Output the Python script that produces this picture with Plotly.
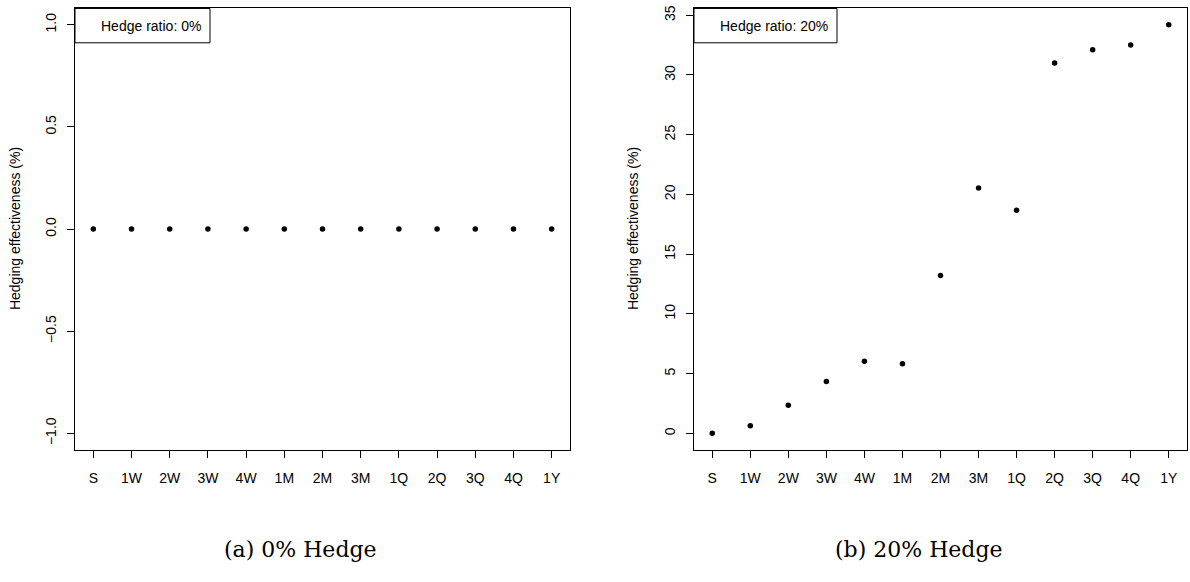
import plotly.graph_objects as go

# Hedge horizons on the x axis
maturities = ["S", "1W", "2W", "3W", "4W", "1M", "2M", "3M", "1Q", "2Q", "3Q", "4Q", "1Y"]

# Hedging effectiveness (%) for each hedge ratio
effect_0 = [0.0, 0.0, 0.0, 0.0, 0.0, 0.0, 0.0, 0.0, 0.0, 0.0, 0.0, 0.0, 0.0]
effect_20 = [0.0, 0.64, 2.36, 4.33, 6.03, 5.83, 13.22, 20.53, 18.67, 31.0, 32.12, 32.52, 34.2]

# Tick labels for the two y axes
ytick_vals_0 = [-1.0, -0.5, 0.0, 0.5, 1.0]
ytick_text_0 = ["\u22121.0", "\u22120.5", "0.0", "0.5", "1.0"]
ytick_vals_20 = [0, 5, 10, 15, 20, 25, 30, 35]
ytick_text_20 = ["0", "5", "10", "15", "20", "25", "30", "35"]

W, H = 1190, 582
SANS = "Liberation Sans, Arial, sans-serif"
SERIF = "DejaVu Serif, serif"
FS = 14


def padded(lo, hi):
    pad = (hi - lo) * 0.04
    return [lo - pad, hi + pad]


# panel geometry in pixels (left, right), shared top/bottom
panels = [(75, 570), (694, 1187)]
top_px, bot_px = 5.5, 449

fig = go.Figure()
fig.add_trace(go.Scatter(x=maturities, y=effect_0, mode="markers",
                         marker=dict(color="black", size=5.5), xaxis="x", yaxis="y",
                         showlegend=False, hoverinfo="x+y"))
fig.add_trace(go.Scatter(x=maturities, y=effect_20, mode="markers",
                         marker=dict(color="black", size=5.5), xaxis="x2", yaxis="y2",
                         showlegend=False, hoverinfo="x+y"))

ydom = [(H - bot_px) / H, (H - top_px) / H]

common_x = dict(type="category", range=[-0.48, len(maturities) - 0.52],
                showline=True, mirror=True, linecolor="black", linewidth=1,
                ticks="outside", ticklen=7, tickcolor="black", tickwidth=1,
                showgrid=False, zeroline=False, ticklabelstandoff=9,
                tickfont=dict(family=SANS, size=FS, color="black"))
common_y = dict(showline=True, mirror=True, linecolor="black", linewidth=1,
                ticks="outside", ticklen=7, tickcolor="black", tickwidth=1,
                showgrid=False, zeroline=False, tickangle=-90, ticklabelstandoff=5,
                tickfont=dict(family=SANS, size=FS, color="black"))

fig.update_layout(
    width=W, height=H, margin=dict(l=0, r=0, t=0, b=0),
    paper_bgcolor="white", plot_bgcolor="white",
    xaxis=dict(domain=[panels[0][0] / W, panels[0][1] / W], anchor="y", **common_x),
    yaxis=dict(domain=ydom, anchor="x", range=padded(-1.0, 1.0),
               tickvals=ytick_vals_0, ticktext=ytick_text_0, **common_y),
    xaxis2=dict(domain=[panels[1][0] / W, panels[1][1] / W], anchor="y2", **common_x),
    yaxis2=dict(domain=ydom, anchor="x2", range=padded(0.0, max(effect_20)),
                tickvals=ytick_vals_20, ticktext=ytick_text_20, **common_y),
)

legend_labels = ["Hedge ratio: 0%", "Hedge ratio: 20%"]
legend_widths = [135, 143]
captions = ["(a) 0% Hedge", "(b) 20% Hedge"]
caption_x = [300, 919]
title_x = [15, 633]

for i, (xa, ya) in enumerate([("x", "y"), ("x2", "y2")]):
    left, right = panels[i]
    pw = right - left
    ph = bot_px - top_px
    # legend box in the top-left corner of the panel
    fig.add_shape(type="rect", xref=f"{xa} domain", yref=f"{ya} domain",
                  x0=0, x1=legend_widths[i] / pw, y0=1 - 34.5 / ph, y1=1,
                  line=dict(color="black", width=1), fillcolor="white")
    fig.add_annotation(xref=f"{xa} domain", yref=f"{ya} domain",
                       x=(legend_widths[i] - 7) / pw, y=1 - 18 / ph,
                       xanchor="right", yanchor="middle", showarrow=False,
                       text=legend_labels[i], font=dict(family=SANS, size=FS, color="black"))
    # y axis title
    fig.add_annotation(xref="paper", yref="paper", x=title_x[i] / W,
                       y=(H - (top_px + bot_px) / 2) / H, textangle=-90,
                       xanchor="center", yanchor="middle", showarrow=False,
                       text="Hedging effectiveness (%)",
                       font=dict(family=SANS, size=FS, color="black"))
    # sub-figure caption
    fig.add_annotation(xref="paper", yref="paper", x=caption_x[i] / W,
                       y=(H - 549) / H, xanchor="center", yanchor="middle",
                       showarrow=False, text=captions[i],
                       font=dict(family=SERIF, size=22, color="black"))

fig.write_html("out.html")
